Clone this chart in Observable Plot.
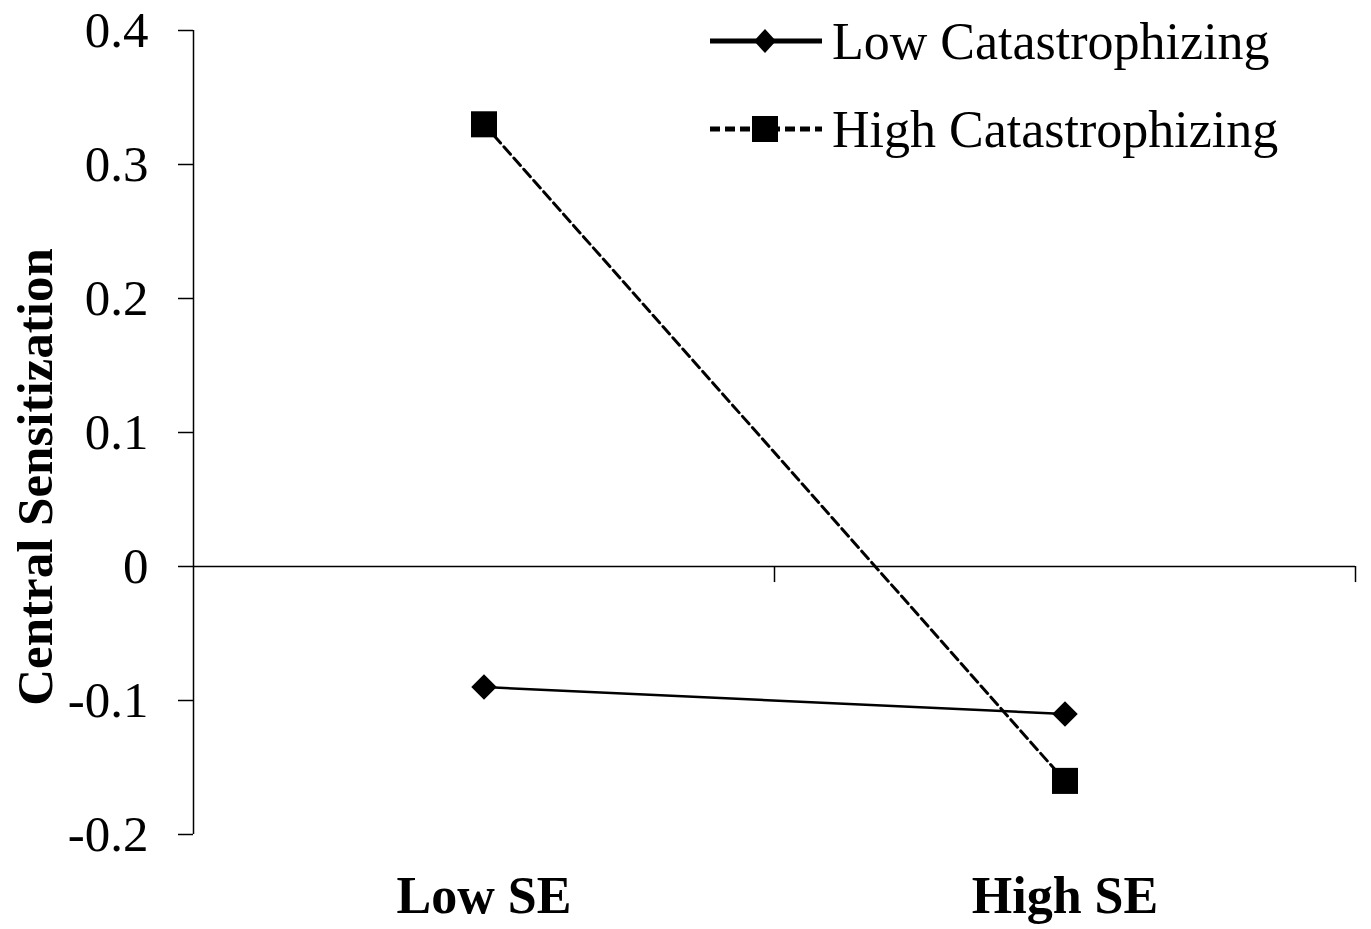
<!DOCTYPE html>
<html>
<head>
<meta charset="utf-8">
<script src="https://cdn.jsdelivr.net/npm/d3@7"></script>
<script src="https://cdn.jsdelivr.net/npm/@observablehq/plot@0.6"></script>
<style>
  html, body { margin: 0; padding: 0; background: #fff; }
  #wrap { position: relative; width: 1371px; height: 929px; }
  #overlay { position: absolute; left: 0; top: 0; pointer-events: none; }
</style>
</head>
<body>
<div id="wrap"></div>
<script>
// ---- data ----
const categories = ["Low SE", "High SE"];
const lowCatValues = [-0.09, -0.11];
const highCatValues = [0.33, -0.16];
const seriesNames = ["Low Catastrophizing", "High Catastrophizing"];
const yTicks = [-0.2, -0.1, 0, 0.1, 0.2, 0.3, 0.4];
const yDomain = [-0.2, 0.4];
const yLabel = "Central Sensitization";

const lowRows = categories.map((c, i) => ({se: c, v: lowCatValues[i]}));
const highRows = categories.map((c, i) => ({se: c, v: highCatValues[i]}));

// ---- layout ----
const W = 1371, H = 929;
const mL = 193, mR = 16, mT = 30, mB = 95;
const bw = (W - mL - mR) / categories.length;
const FONT = "'Liberation Serif', 'Times New Roman', serif";

const plot = Plot.plot({
  width: W, height: H,
  marginLeft: mL, marginRight: mR, marginTop: mT, marginBottom: mB,
  style: {fontFamily: FONT, fontSize: "51px", color: "#000", background: "#fff", overflow: "visible"},
  x: {type: "band", domain: categories, padding: 0, label: null},
  y: {domain: yDomain, label: null},
  marks: [
    // y axis line
    Plot.ruleX([categories[0]], {x: d => d, y1: yDomain[0], y2: yDomain[1], dx: -bw / 2, stroke: "#000", strokeWidth: 1.5}),
    // zero line
    Plot.ruleY([0], {stroke: "#000", strokeWidth: 1.5}),
    // category boundary ticks on zero line
    Plot.ruleX(categories, {x: d => d, y1: 0, y2: -0.012, dx: bw / 2, stroke: "#000", strokeWidth: 1.5}),
    Plot.axisY({ticks: yTicks, tickSize: 15, tickPadding: 30, strokeWidth: 1.5,
      tickFormat: d => d === 0 ? "0" : d.toFixed(1), fontSize: 51, fontFamily: FONT, label: null}),
    Plot.axisX({anchor: "bottom", tickSize: 0, tickPadding: 42, fontSize: 52, fontWeight: "bold", fontFamily: FONT, label: null}),
    // series
    Plot.line(lowRows, {x: "se", y: "v", stroke: "#000", strokeWidth: 2.5}),
    Plot.line(highRows, {x: "se", y: "v", stroke: "#000", strokeWidth: 3, strokeDasharray: "10,5"}),
    Plot.dot(lowRows, {x: "se", y: "v", symbol: "diamond2", r: 11.5, fill: "#000", stroke: "none"}),
    Plot.dot(highRows, {x: "se", y: "v", symbol: "square", r: 14.7, fill: "#000", stroke: "none"})
  ]
});

const wrap = document.getElementById("wrap");
wrap.appendChild(plot);

// ---- overlay: y-axis title and legend ----
const ov = d3.select(wrap).append("svg")
  .attr("id", "overlay").attr("width", W).attr("height", H)
  .style("font-family", FONT);

ov.append("text")
  .attr("transform", "translate(52,477) rotate(-90)")
  .attr("text-anchor", "middle")
  .attr("font-size", 51).attr("font-weight", "bold").attr("fill", "#000")
  .text(yLabel);

const rows = [
  {name: seriesNames[0], y: 41, dash: null, sym: "diamond"},
  {name: seriesNames[1], y: 129, dash: "10,5", sym: "square"}
];
rows.forEach(r => {
  ov.append("line").attr("x1", 710).attr("x2", 822).attr("y1", r.y).attr("y2", r.y)
    .attr("stroke", "#000").attr("stroke-width", 5)
    .attr("stroke-dasharray", r.dash);
  if (r.sym === "diamond") {
    ov.append("path").attr("d", `M765,${r.y - 12}L776,${r.y}L765,${r.y + 12}L754,${r.y}Z`).attr("fill", "#000");
  } else {
    ov.append("rect").attr("x", 752).attr("y", r.y - 13).attr("width", 26).attr("height", 26).attr("fill", "#000");
  }
  ov.append("text").attr("x", 832).attr("y", r.y + 17.5).attr("font-size", 52).attr("fill", "#000").text(r.name);
});
</script>
</body>
</html>
